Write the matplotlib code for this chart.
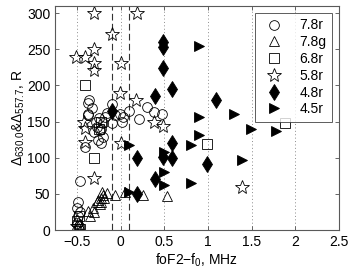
import matplotlib
matplotlib.use('Agg')
import matplotlib.pyplot as plt

plt.rcParams['font.family'] = ['Liberation Sans', 'DejaVu Sans']
plt.rcParams['mathtext.fontset'] = 'custom'
plt.rcParams['mathtext.rm'] = 'Liberation Sans'
plt.rcParams['mathtext.it'] = 'Liberation Sans:italic'

# 7.8r (open circles)
c78r_x = [-0.47, -0.49, -0.41, -0.375, -0.33, -0.37, -0.36, -0.16, -0.375, -0.2, -0.24, -0.2,
          -0.27, -0.18, -0.28, -0.22, -0.25, -0.22, -0.26, -0.3, -0.01, 0.02, -0.1, -0.1,
          -0.07, 0.03, 0.1, 0.21, 0.30, 0.38, 0.47, -0.5, -0.49, -0.5, -0.48, -0.5, -0.47]
c78r_y = [68, 39, 115, 176, 169, 161, 180, 162, 159, 148, 138, 129,
          143, 156, 150, 140, 155, 120, 125, 135, 161, 149, 148, 174,
          159, 156, 165, 154, 170, 163, 161, 30, 20, 10, 5, 0, 25]

# 7.8g (open triangles)
c78g_x = [-0.21, -0.16, -0.2, -0.07, 0.05, 0.26, 0.53, -0.27, -0.26, -0.22, -0.37, -0.32,
          -0.3, -0.35, -0.5, -0.48, -0.45, -0.23, -0.19, -0.24]
c78g_y = [53, 51, 48, 49, 53, 48, 47, 39, 42, 39, 27, 30,
          25, 20, 15, 8, 3, 44, 45, 36]

# 6.8r (open squares)
c68r_x = [-0.41, -0.31, 0.99, 1.88, -0.5, -0.48, -0.47, -0.25, -0.22]
c68r_y = [200, 100, 119, 148, 12, 20, 2, 140, 150]

# 5.8r (open stars)
c58r_x = [-0.51, -0.41, -0.31, -0.31, -0.31, -0.31, 0.19, -0.10, 0.01, -0.01, 0.18, 0.38,
          0.48, -0.42, -0.41, -0.41, 0.0, -0.30, 1.39, -0.5]
c58r_y = [239, 240, 250, 231, 221, 300, 300, 271, 231, 190, 180, 149,
          144, 149, 141, 122, 121, 72, 60, 5]

# 4.8r (filled diamonds)
c48r_x = [0.48, 0.48, 0.48, 0.59, 0.39, 1.09, -0.1, 0.59, 0.48, 0.59, 0.39, 0.99, 0.19, 0.19]
c48r_y = [260, 253, 224, 195, 186, 180, 165, 120, 101, 100, 70, 91, 100, 50]

# 4.5r (filled right triangles)
c45r_x = [0.9, 1.3, 0.9, 1.49, 1.78, 0.9, 1.39, 0.81, 0.5, 0.5, 0.5, 0.81, 0.1, 0.1]
c45r_y = [254, 161, 156, 140, 137, 131, 97, 118, 108, 80, 62, 65, 118, 53]

fig = plt.figure(figsize=(3.49, 2.71), dpi=100)
ax = fig.add_axes([0.158, 0.151, 0.813, 0.827])

for xv in [-0.5, 0, 0.5, 1, 1.5, 2]:
    ax.axvline(xv, color='0.55', ls=(0, (1, 2.5)), lw=0.7, zorder=0)
for xv in [-0.1, 0.1]:
    ax.axvline(xv, color='0.2', ls=(0, (6, 3)), lw=0.8, zorder=0)

ax.plot(c78r_x, c78r_y, 'o', mfc='none', mec='k', ms=7, mew=0.6, label='7.8r')
ax.plot(c78g_x, c78g_y, '^', mfc='none', mec='k', ms=7.5, mew=0.6, label='7.8g')
ax.plot(c68r_x, c68r_y, 's', mfc='none', mec='k', ms=6.5, mew=0.6, label='6.8r')
ax.plot(c58r_x, c58r_y, '*', mfc='none', mec='k', ms=10, mew=0.6, label='5.8r')
ax.plot(c48r_x, c48r_y, 'd', mfc='k', mec='k', ms=8.5, mew=0.6, label='4.8r')
ax.plot(c45r_x, c45r_y, '>', mfc='k', mec='k', ms=7.5, mew=0.6, label='4.5r')

ax.set_xlim(-0.75, 2.5)
ax.set_ylim(0, 310)
ax.set_xticks([-0.5, 0, 0.5, 1, 1.5, 2, 2.5])
ax.set_xticklabels(['\u22120.5', '0', '0.5', '1', '1.5', '2', '2.5'])
ax.set_yticks([0, 50, 100, 150, 200, 250, 300])
ax.tick_params(direction='in', top=True, right=True, labelsize=10, length=3, width=0.6, color='0.3')
for s in ax.spines.values():
    s.set_color('0.35')
    s.set_linewidth(0.8)

ax.set_xlabel('foF2\u2212f$_0$, MHz', fontsize=10, labelpad=2)
ax.set_ylabel(r'$\Delta_{630.0}$&$\Delta_{557.7}$, R', fontsize=10, labelpad=0)

leg = ax.legend(loc='upper right', fontsize=10, frameon=True, fancybox=False,
                borderpad=0.4, labelspacing=0.2, handletextpad=0.8, borderaxespad=0.5,
                handlelength=2.0)
leg.get_frame().set_edgecolor('0.2')
leg.get_frame().set_linewidth(0.7)

fig.savefig('out.png', dpi=100)
